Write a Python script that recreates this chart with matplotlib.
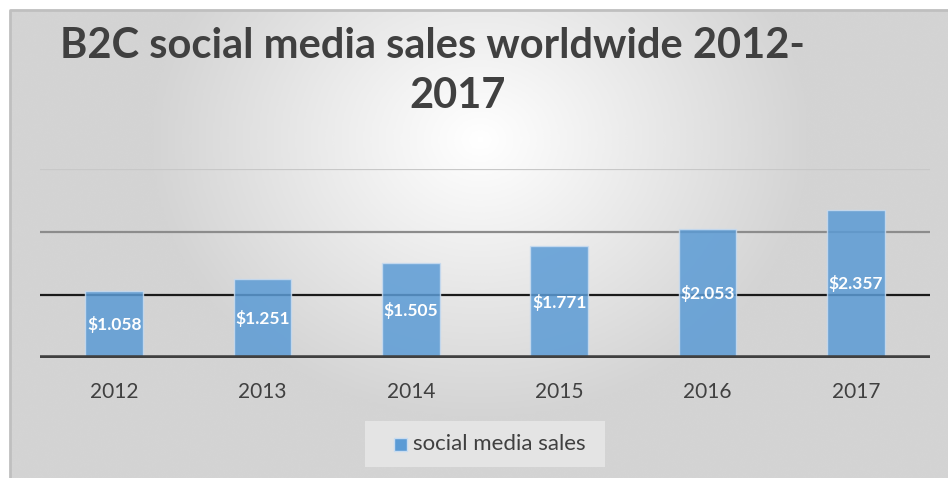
import numpy as np
import matplotlib
import matplotlib.pyplot as plt
from matplotlib.patches import Rectangle

matplotlib.use('Agg')

years = ['2012', '2013', '2014', '2015', '2016', '2017']
sales = [1.058, 1.251, 1.505, 1.771, 2.053, 2.357]
bar_labels = ['$1.058', '$1.251', '$1.505', '$1.771', '$2.053', '$2.357']
grid_levels = [1, 2, 3]
grid_colors = ['#1a1a1a', '#8c8c8c', '#c8c8c8']

W, H = 948, 478
fig = plt.figure(figsize=(W / 100, H / 100), dpi=100)
fig.patch.set_facecolor('white')

# chart area background with a soft radial gradient
bg = fig.add_axes([10 / W, 0, (W - 10) / W, (H - 10) / H])
yy, xx = np.mgrid[0:200, 0:400]
cx, cy = 200, 55
r = np.sqrt(((xx - cx) / 400) ** 2 + ((yy - cy) / 200) ** 2 * 0.35)
shade = np.clip(1.0 - 0.32 * r / r.max(), 0.83, 1.0)
bg.imshow(shade, cmap='gray', vmin=0, vmax=1, aspect='auto',
          extent=[0, 1, 0, 1], interpolation='bicubic')
bg.set_xlim(0, 1)
bg.set_ylim(0, 1)
bg.axis('off')
bg.plot([0.0005, 0.0005, 1], [0, 0.999, 0.999], color='#bfbfbf', lw=2,
        transform=bg.transAxes, clip_on=False)

ax = fig.add_axes([40 / W, (H - 358) / H, 890 / W, (358 - 169) / H])
ax.patch.set_alpha(0)
x = np.arange(len(years))
for lvl, c in zip(grid_levels, grid_colors):
    ax.axhline(lvl, color=c, lw=1.6, zorder=1)
bars = ax.bar(x, sales, width=0.39, color='#5b9bd5', alpha=0.85,
              edgecolor='#c9dcf0', linewidth=1, zorder=2)
ax.axhline(0, color='#404040', lw=4, zorder=3)
ax.bar_label(bars, labels=bar_labels, label_type='center', color='white',
             fontsize=12.5, fontweight='bold', family='Lato', zorder=4,
             padding=0)
ax.set_xlim(-0.5, len(years) - 0.5)
ax.set_ylim(0, 3)
ax.set_yticks([])
ax.set_xticks(x)
ax.set_xticklabels(years, fontsize=15, color='#404040', family='Lato')
ax.tick_params(axis='x', length=0, pad=17)
for s in ax.spines.values():
    s.set_visible(False)

fig.text(432 / W, 1 - 46 / H, 'B2C social media sales worldwide 2012-',
         ha='center', va='center', fontsize=30, fontweight='bold',
         color='#404040', family='Lato')
fig.text(458 / W, 1 - 96 / H, '2017', ha='center', va='center', fontsize=30,
         fontweight='bold', color='#404040', family='Lato')

# legend
fig.patches.append(Rectangle((365 / W, 1 - 467 / H), 240 / W, 46 / H,
                             transform=fig.transFigure, facecolor='#e9e9e9',
                             edgecolor='none', alpha=0.8))
fig.patches.append(Rectangle((394 / W, 1 - 451 / H), 13 / W, 13 / H,
                             transform=fig.transFigure, facecolor='#5b9bd5',
                             edgecolor='#c9dcf0', lw=1))
fig.text(413 / W, 1 - 444 / H, 'social media sales', ha='left', va='center',
         fontsize=16, color='#404040', family='Lato')

fig.savefig('out.png', dpi=100)
plt.close()
